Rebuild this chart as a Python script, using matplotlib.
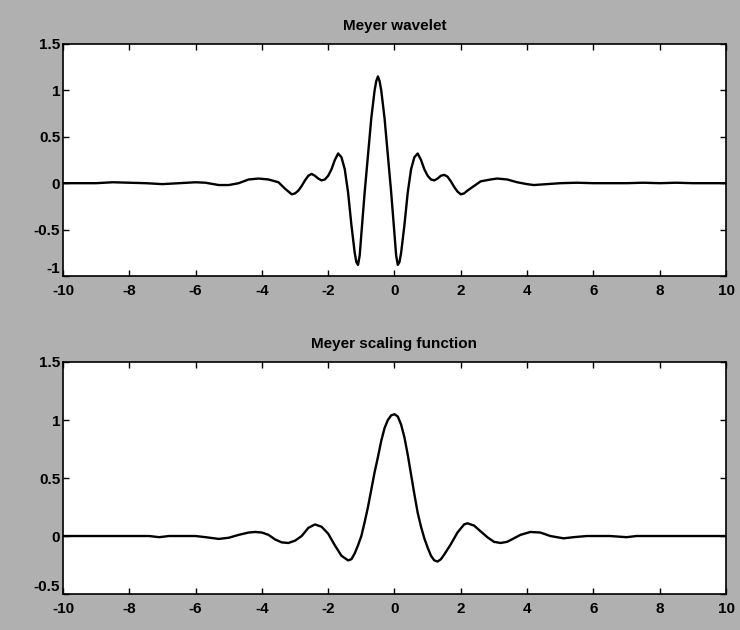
import numpy as np
import matplotlib
matplotlib.use("Agg")
import matplotlib.pyplot as plt

# values
wav_x = [-10, -9, -8.5, -8, -7.5, -7, -6.5, -6, -5.7, -5.3, -5.0, -4.7, -4.4, -4.1, -3.8,
         -3.5, -3.3, -3.1, -3.0, -2.9, -2.8, -2.7, -2.6, -2.5, -2.4, -2.3, -2.2, -2.1, -2.0,
         -1.9, -1.8, -1.7, -1.6, -1.5, -1.4, -1.3, -1.2, -1.15, -1.1, -1.05, -1.0, -0.9, -0.8,
         -0.7, -0.6, -0.55, -0.5, -0.45, -0.4, -0.3, -0.2, -0.1, 0.0, 0.05, 0.1, 0.15, 0.2,
         0.3, 0.4, 0.5, 0.6, 0.7, 0.8, 0.9, 1.0, 1.1, 1.2, 1.3, 1.4, 1.5, 1.6, 1.7, 1.8,
         1.9, 2.0, 2.1, 2.2, 2.4, 2.6, 2.9, 3.1, 3.4, 3.7, 4.0, 4.2, 4.6, 5.0, 5.5, 6.0,
         7.0, 7.5, 8.0, 8.5, 9.0, 9.5, 10]
wav_y = [0.0, 0.0, 0.01, 0.005, 0.0, -0.01, 0.0, 0.01, 0.005, -0.02, -0.02, 0.0, 0.04, 0.05, 0.04,
         0.01, -0.06, -0.12, -0.11, -0.08, -0.03, 0.03, 0.08, 0.1, 0.08, 0.05, 0.03, 0.04, 0.08,
         0.15, 0.25, 0.32, 0.28, 0.15, -0.1, -0.45, -0.75, -0.85, -0.88, -0.78, -0.55, -0.1, 0.3,
         0.7, 1.0, 1.1, 1.15, 1.1, 1.0, 0.7, 0.3, -0.1, -0.55, -0.78, -0.88, -0.85, -0.75,
         -0.45, -0.1, 0.15, 0.28, 0.32, 0.25, 0.15, 0.08, 0.04, 0.03, 0.05, 0.08, 0.09, 0.07, 0.02, -0.04,
         -0.09, -0.12, -0.11, -0.08, -0.03, 0.02, 0.04, 0.05, 0.04, 0.01, -0.01, -0.02, -0.01, 0.0, 0.005, 0.0,
         0.0, 0.005, 0.0, 0.005, 0.0, 0.0, 0.0]

phi_x = [-10, -9, -8, -7.4, -7.1, -6.8, -6.5, -6.0, -5.7, -5.3, -5.0, -4.7, -4.4, -4.2, -4.0,
         -3.8, -3.6, -3.4, -3.2, -3.0, -2.8, -2.6, -2.4, -2.2, -2.0, -1.8, -1.6, -1.4, -1.3,
         -1.2, -1.1, -1.0, -0.9, -0.8, -0.7, -0.6, -0.5, -0.4, -0.3, -0.2, -0.1, 0.0, 0.1,
         0.2, 0.3, 0.4, 0.5, 0.6, 0.7, 0.8, 0.9, 1.0, 1.1, 1.2, 1.3, 1.4, 1.5, 1.7, 1.9,
         2.1, 2.2, 2.4, 2.6, 2.8, 3.0, 3.2, 3.4, 3.6, 3.8, 4.1, 4.4, 4.7, 5.1, 5.4, 5.8,
         6.5, 7.0, 7.3, 8.0, 9.0, 10]
phi_y = [0.0, 0.0, 0.0, 0.0, -0.01, 0.0, 0.0, 0.0, -0.01, -0.025, -0.015, 0.01, 0.03, 0.035, 0.03,
         0.01, -0.03, -0.055, -0.06, -0.04, 0.0, 0.07, 0.1, 0.08, 0.02, -0.08, -0.17, -0.21, -0.2,
         -0.15, -0.08, 0.0, 0.12, 0.25, 0.4, 0.55, 0.68, 0.82, 0.93, 1.0, 1.04, 1.05, 1.03,
         0.96, 0.85, 0.7, 0.53, 0.36, 0.2, 0.08, -0.02, -0.1, -0.17, -0.21, -0.22, -0.2, -0.16, -0.07, 0.03,
         0.1, 0.11, 0.09, 0.04, -0.01, -0.05, -0.06, -0.05, -0.02, 0.01, 0.035, 0.03, 0.0, -0.02, -0.01, 0.0,
         0.0, -0.01, 0.0, 0.0, 0.0, 0.0]

x_ticks = [-10, -8, -6, -4, -2, 0, 2, 4, 6, 8, 10]
wav_yticks = [-1, -0.5, 0, 0.5, 1, 1.5]
wav_ylabels = ["-1", "-0.5", "0", "0.5", "1", "1.5"]
phi_yticks = [-0.5, 0, 0.5, 1, 1.5]
phi_ylabels = ["-0.5", "0", "0.5", "1", "1.5"]
titles = ["Meyer wavelet", "Meyer scaling function"]

plt.rcParams['font.family'] = ['Liberation Sans', 'DejaVu Sans']
bg = '#b0b0b0'

fig = plt.figure(figsize=(7.4, 6.3), dpi=100, facecolor=bg)
ax1 = fig.add_axes([0.0851, 0.5619, 0.896, 0.3683])
ax2 = fig.add_axes([0.0851, 0.0571, 0.896, 0.3683])

panels = [(ax1, wav_x, wav_y, (-1, 1.5), wav_yticks, wav_ylabels, titles[0]),
          (ax2, phi_x, phi_y, (-0.5, 1.5), phi_yticks, phi_ylabels, titles[1])]

for ax, xs, ys, ylim, yt, yl, title in panels:
    ax.plot(xs, ys, color='black', lw=1.7, solid_joinstyle='round')
    ax.set_xlim(-10, 10)
    ax.set_ylim(*ylim)
    ax.set_xticks(x_ticks)
    ax.set_xticklabels([str(t) for t in x_ticks])
    ax.set_yticks(yt)
    ax.set_yticklabels(yl)
    ax.tick_params(direction='in', length=4, width=1, top=True, right=True,
                   labelsize=11, colors='black')
    ax.tick_params(axis='x', pad=6)
    ax.tick_params(axis='y', pad=2)
    for lab in ax.get_xticklabels() + ax.get_yticklabels():
        lab.set_fontweight('bold')
    # lowest y label sits just above the corner, as in the scan
    ax.get_yticklabels()[0].set_verticalalignment('bottom')
    for s in ax.spines.values():
        s.set_linewidth(1.2)
    ax.set_title(title, fontsize=11, fontweight='bold', pad=10)

fig.savefig('out.png', dpi=100, facecolor=bg)
